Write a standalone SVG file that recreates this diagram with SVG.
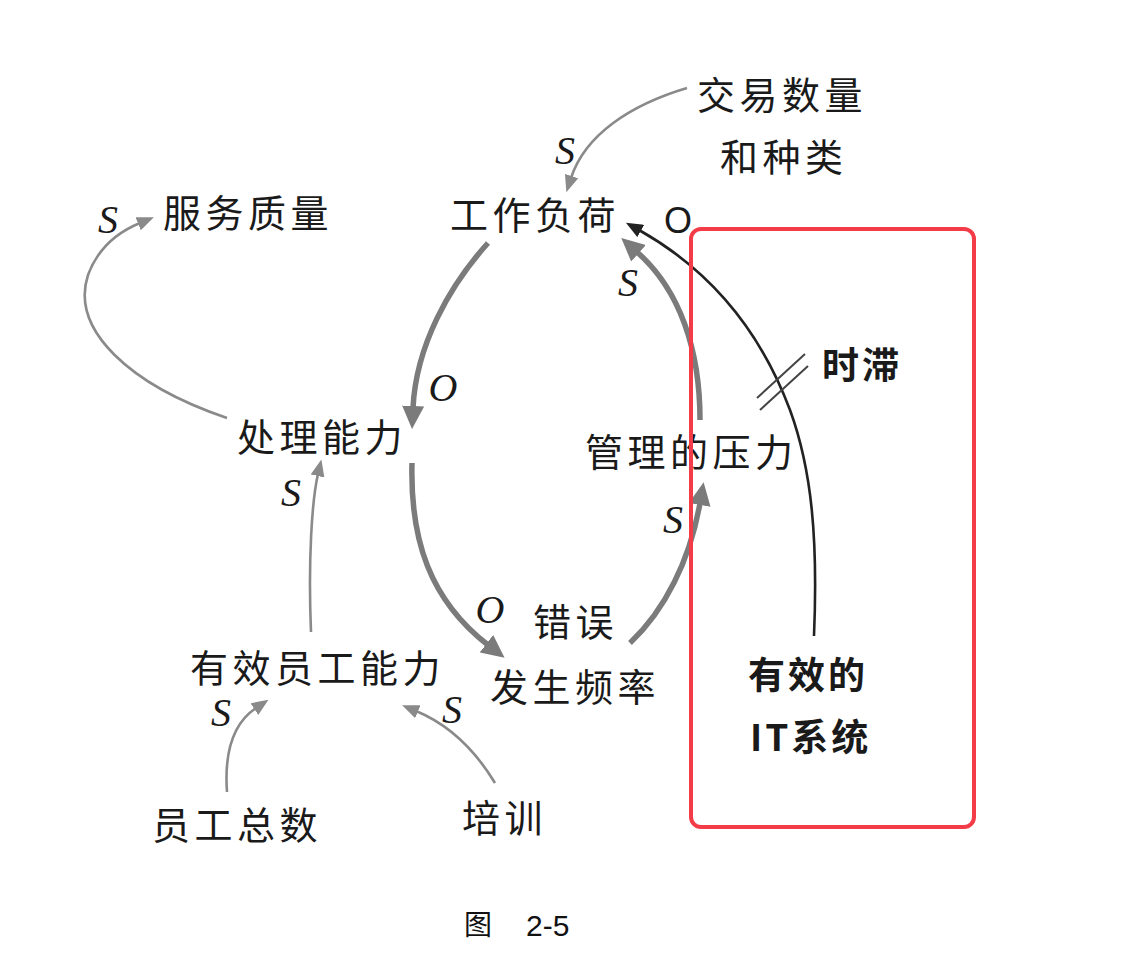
<svg xmlns="http://www.w3.org/2000/svg" width="1140" height="960" viewBox="0 0 1140 960">
<style>
.cn{font-family:"Noto Sans CJK SC","Noto Sans",sans-serif;font-size:38px;letter-spacing:4.5px;fill:#1a1a1a}
.bd{font-family:"Noto Sans CJK SC","Noto Sans",sans-serif;font-size:37px;font-weight:bold;letter-spacing:3px;fill:#1a1a1a}
.pol{font-family:"Liberation Serif",serif;font-style:italic;font-size:40px;fill:#1a1a1a;text-anchor:middle}
.thick{fill:none;stroke:#7b7b7b;stroke-width:5.5}
.thin{fill:none;stroke:#8a8a8a;stroke-width:2.6}
.blk{fill:none;stroke:#222;stroke-width:2.6}
</style>
<defs>
<marker id="aThick" markerUnits="userSpaceOnUse" markerWidth="24" markerHeight="22" refX="2" refY="11" orient="auto">
<path d="M0,0 L23,11 L0,22 z" fill="#7b7b7b"/>
</marker>
<marker id="aThin" markerUnits="userSpaceOnUse" markerWidth="18" markerHeight="14" refX="2" refY="7" orient="auto">
<path d="M0,0 L17,7 L0,14 z" fill="#8a8a8a"/>
</marker>
<marker id="aBlk" markerUnits="userSpaceOnUse" markerWidth="18" markerHeight="14" refX="2" refY="7" orient="auto">
<path d="M0,0 L17,7 L0,14 z" fill="#222"/>
</marker>
</defs>
<rect width="1140" height="960" fill="#fff"/>

<g id="connectors">
<path class="thin" d="M687,88 C630,105 585,135 571,178" marker-end="url(#aThin)"/>
<path class="thick" d="M488,243 C450,285 416,345 413,408" marker-end="url(#aThick)"/>
<path class="thick" d="M412,463 C410,540 430,600 488,645" marker-end="url(#aThick)"/>
<path class="thick" d="M630,643 C665,610 690,560 700,503" marker-end="url(#aThick)"/>
<path class="thick" d="M700,420 C700,350 680,290 637,252" marker-end="url(#aThick)"/>
<path class="blk" d="M814,636 C818,540 812,470 790,410 C760,330 710,270 639,230" marker-end="url(#aBlk)"/>
<path class="thin" d="M227,418 C130,385 70,330 88,275 C98,248 118,232 140,223" marker-end="url(#aThin)"/>
<path class="thin" d="M311,632 C308,560 312,500 318,474" marker-end="url(#aThin)"/>
<path class="thin" d="M227,792 C224,750 235,722 256,708" marker-end="url(#aThin)"/>
<path class="thin" d="M495,783 C475,750 450,725 416,711" marker-end="url(#aThin)"/>
<line x1="757" y1="398" x2="805" y2="354" stroke="#444" stroke-width="2"/>
<line x1="760" y1="410" x2="808" y2="366" stroke="#444" stroke-width="2"/>
<text class="pol" x="565" y="164">S</text>
<text x="678" y="233" font-family="Liberation Sans,sans-serif" font-size="36" fill="#1a1a1a" text-anchor="middle">O</text>
<text class="pol" x="628" y="296">S</text>
<text class="pol" x="443" y="401">O</text>
<text class="pol" x="291" y="506">S</text>
<text class="pol" x="673" y="533">S</text>
<text class="pol" x="490" y="623">O</text>
<text class="pol" x="221" y="726">S</text>
<text class="pol" x="452" y="723">S</text>
<text class="pol" x="108" y="233">S</text>
</g>

<g id="n-jiaoyi"><text class="cn" x="697" y="109">交易数量</text><text class="cn" x="720" y="171">和种类</text></g>
<g id="n-gongzuo"><text class="cn" x="450" y="229">工作负荷</text></g>
<g id="n-fuwu"><text class="cn" x="163" y="227">服务质量</text></g>
<g id="n-chuli"><text class="cn" x="237" y="451">处理能力</text></g>
<g id="n-guanli"><text class="cn" x="585" y="466">管理的压力</text></g>
<g id="n-cuowu"><text class="cn" x="533" y="636">错误</text><text class="cn" x="490" y="701">发生频率</text></g>
<g id="n-youxiao"><text class="cn" x="190" y="682">有效员工能力</text></g>
<g id="n-yuangong"><text class="cn" x="152" y="839">员工总数</text></g>
<g id="n-peixun"><text class="cn" x="462" y="832">培训</text></g>
<g id="n-it">
<rect x="691" y="229" width="283" height="598" rx="10" fill="none" stroke="#f43b48" stroke-width="4"/>
<text class="bd" x="748" y="689">有效的</text>
<text class="bd" x="750" y="751">IT系统</text>
</g>
<g id="n-shizhi"><text class="bd" x="822" y="379">时滞</text></g>
<g id="caption"><text font-family="Noto Sans CJK SC,sans-serif" font-size="28" fill="#111" x="464" y="935">图</text><text font-family="Liberation Sans,sans-serif" font-size="30" fill="#111" x="526" y="936">2-5</text></g>
</svg>
